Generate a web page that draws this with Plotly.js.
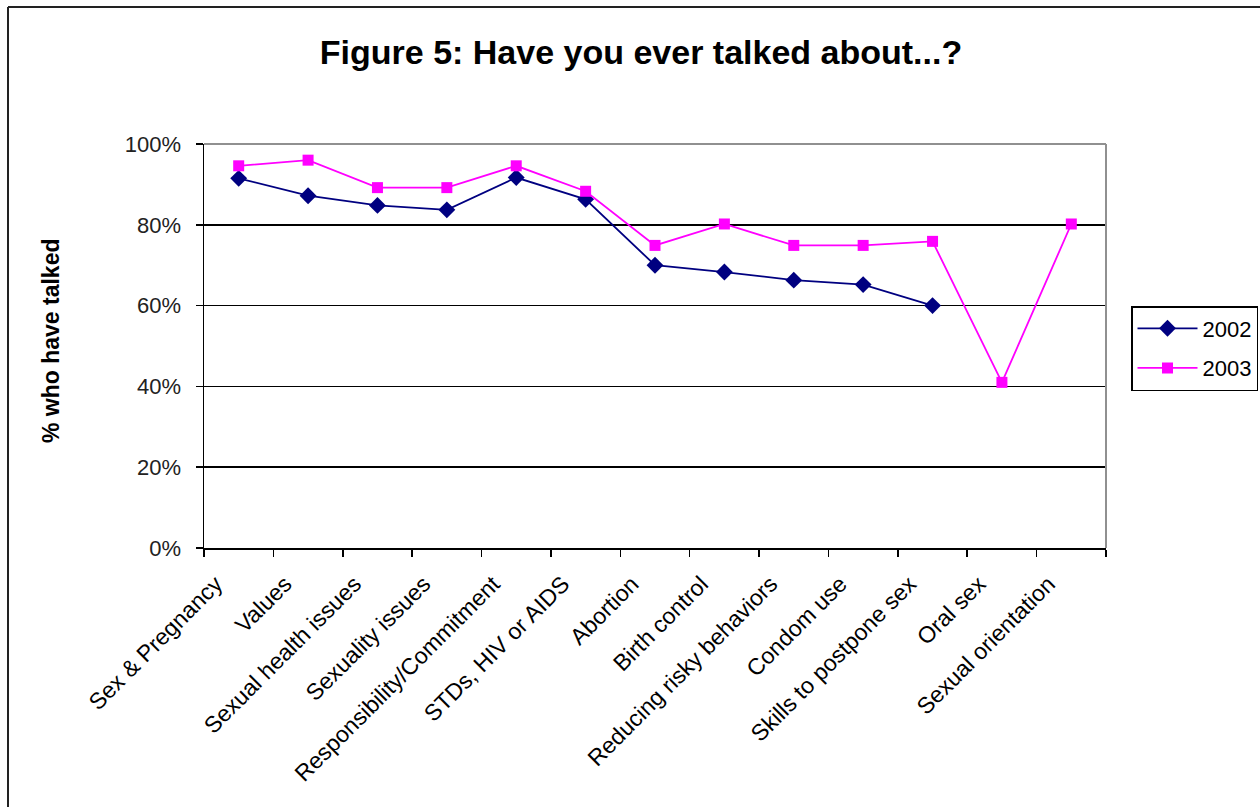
<!DOCTYPE html>
<html>
<head>
<meta charset="utf-8">
<script src="https://cdn.plot.ly/plotly-3.0.1.min.js"></script>
<style>
  html, body { margin: 0; padding: 0; background: #fff; }
  #chart { width: 1260px; height: 807px; }
</style>
</head>
<body>
<div id="chart"></div>
<script>
// Topics discussed, in survey order
const topics = [
  "Sex & Pregnancy", "Values", "Sexual health issues", "Sexuality issues",
  "Responsibility/Commitment", "STDs, HIV or AIDS", "Abortion", "Birth control",
  "Reducing risky behaviors", "Condom use", "Skills to postpone sex",
  "Oral sex", "Sexual orientation"
];

// Share of respondents who have talked about each topic (fraction)
const share2002 = [0.915, 0.872, 0.848, 0.837, 0.917, 0.863, 0.700, 0.683, 0.663, 0.652, 0.600, null, null];
const share2003 = [0.946, 0.960, 0.892, 0.892, 0.946, 0.883, 0.749, 0.802, 0.749, 0.749, 0.759, 0.410, 0.802];

const yTicks = [0, 0.2, 0.4, 0.6, 0.8, 1.0];
const yTickText = ["0%", "20%", "40%", "60%", "80%", "100%"];

const FONT = "Arial, 'Liberation Sans', sans-serif";

const traces = [
  {
    x: topics, y: share2002, name: "2002", type: "scatter", mode: "lines+markers",
    legendgroup: "y2002",
    line: { color: "#000080", width: 1.8 },
    marker: { symbol: "diamond", size: 13, color: "#000080" },
    connectgaps: false
  },
  {
    x: topics, y: share2003, name: "2003", type: "scatter", mode: "lines+markers",
    legendgroup: "y2003",
    line: { color: "#FF00FF", width: 1.8 },
    marker: { symbol: "square", size: 11, color: "#FF00FF" }
  }
];

// plot area geometry (pixels) used to place the frame lines
const L = 204, R = 154, T = 144, B = 259;
const W = 1260 - L - R, H = 807 - T - B;
const px = v => (v - L) / W;
const py = v => (807 - B - v) / H;

const layout = {
  width: 1260, height: 807,
  margin: { l: L, r: R, t: T, b: B, pad: 0, autoexpand: false },
  paper_bgcolor: "#ffffff",
  plot_bgcolor: "#ffffff",
  font: { family: FONT, color: "#000", size: 20 },
  title: {
    text: "Figure 5: Have you ever talked about...?",
    font: { family: FONT, size: 34, weight: "bold", color: "#000" },
    x: 641 / 1260, xref: "container", xanchor: "center",
    y: 1 - 52 / 807, yref: "container", yanchor: "middle"
  },
  showlegend: true,
  legend: {
    x: px(1131), y: py(306), xanchor: "left", yanchor: "top",
    bordercolor: "#000", borderwidth: 1.5, bgcolor: "#fff",
    itemwidth: 60, tracegroupgap: 8,
    font: { family: FONT, size: 22, color: "#000" }
  },
  xaxis: {
    type: "category",
    range: [-0.5, topics.length - 0.5],
    autorange: false,
    tickson: "boundaries",
    ticks: "outside", ticklen: 7, tickwidth: 1.5, tickcolor: "#000",
    tickangle: -45,
    ticklabelshift: -23, ticklabelstandoff: 12,
    tickfont: { family: FONT, size: 23, color: "#000" },
    showline: true, linecolor: "#000", linewidth: 1.5,
    showgrid: false, zeroline: false,
    automargin: false, fixedrange: true
  },
  yaxis: {
    range: [0, 1],
    autorange: false,
    tickvals: yTicks, ticktext: yTickText,
    ticks: "outside", ticklen: 7, tickwidth: 1.5, tickcolor: "#000",
    tickfont: { family: FONT, size: 22, color: "#222" },
    ticklabelstandoff: 10,
    showline: true, linecolor: "#000", linewidth: 1.5,
    showgrid: true, gridcolor: "#000", gridwidth: 1.5,
    zeroline: false, automargin: false, fixedrange: true
  },
  annotations: [
    {
      text: "% who have talked", textangle: -90,
      xref: "paper", yref: "paper", x: px(51), y: py(341),
      xanchor: "center", yanchor: "middle", showarrow: false,
      font: { family: FONT, size: 23, weight: "bold", color: "#000" }
    }
  ],
  shapes: [
    // gray top and right edges of the plot area
    { type: "line", xref: "paper", yref: "paper", x0: 0, x1: 1, y0: 1, y1: 1,
      line: { color: "#909090", width: 2 } },
    { type: "line", xref: "paper", yref: "paper", x0: 1, x1: 1, y0: 0, y1: 1,
      line: { color: "#909090", width: 2 } },
    // outer chart frame (left and top edges)
    { type: "line", xref: "paper", yref: "paper", x0: px(8), x1: px(8), y0: py(7), y1: py(830),
      line: { color: "#222", width: 2 } },
    { type: "line", xref: "paper", yref: "paper", x0: px(8), x1: px(1290), y0: py(7), y1: py(7),
      line: { color: "#222", width: 2 } }
  ]
};

Plotly.newPlot("chart", traces, layout, { displayModeBar: false, staticPlot: true });
</script>
</body>
</html>
